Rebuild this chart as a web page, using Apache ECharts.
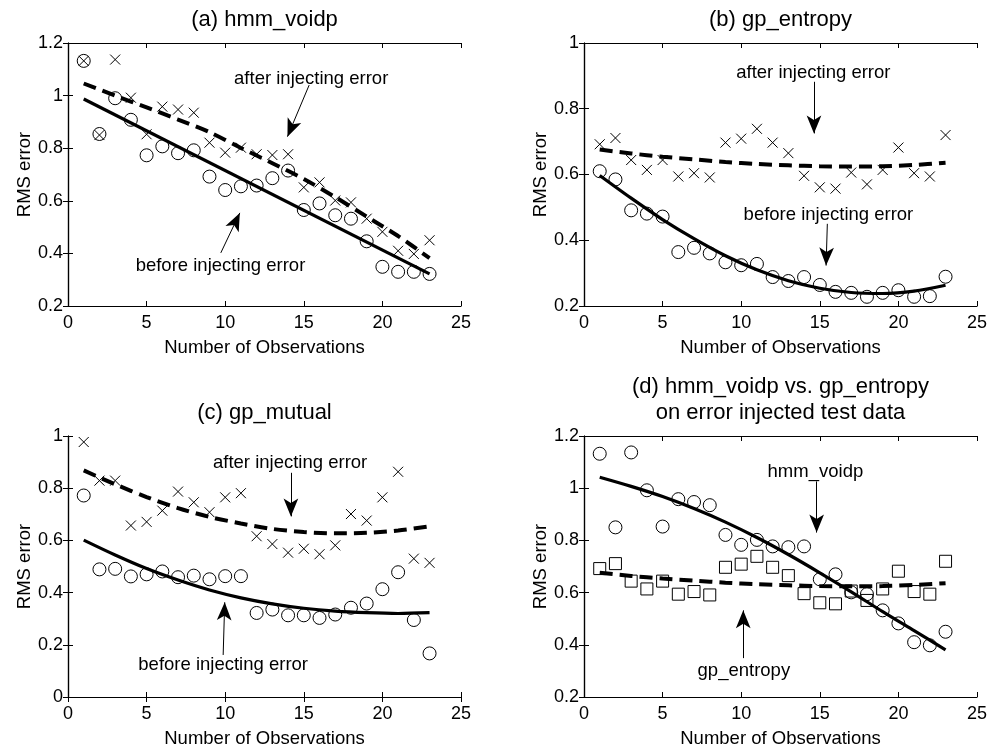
<!DOCTYPE html>
<html>
<head>
<meta charset="utf-8">
<script src="https://cdn.jsdelivr.net/npm/echarts@6/dist/echarts.min.js"></script>
<style>html,body{margin:0;padding:0;background:#fff}#c{width:990px;height:749px}</style>
</head>
<body>
<div id="c"></div>
<script>
// ---------- data ----------
const obsX = [1,2,3,4,5,6,7,8,9,10,11,12,13,14,15,16,17,18,19,20,21,22,23];
const fitX = [1,3,5,7,9,11,13,15,17,19,21,23];
const lineEndsX = [1,23];

const xTicks = [0,5,10,15,20,25];

// (a) hmm_voidp
const aBefore = [1.132,0.854,0.990,0.908,0.773,0.807,0.781,0.792,0.692,0.641,0.655,0.658,0.686,0.715,0.565,0.590,0.545,0.532,0.446,0.349,0.330,0.330,0.322];
const aAfter  = [1.132,0.850,1.137,0.992,0.853,0.958,0.947,0.935,0.821,0.783,0.802,0.777,0.774,0.777,0.651,0.670,0.601,0.594,0.532,0.482,0.410,0.398,0.450];
const aFitBefore = [0.987,0.322];
const aFitAfter  = [1.046,1.000,0.955,0.909,0.861,0.801,0.743,0.683,0.614,0.540,0.466,0.382];

// (b) gp_entropy
const bBefore = [0.610,0.585,0.491,0.481,0.472,0.364,0.377,0.360,0.333,0.324,0.328,0.288,0.276,0.288,0.264,0.243,0.240,0.228,0.240,0.248,0.228,0.230,0.289];
const bAfter  = [0.692,0.711,0.644,0.614,0.644,0.594,0.604,0.591,0.697,0.709,0.739,0.697,0.665,0.596,0.561,0.557,0.606,0.570,0.614,0.682,0.604,0.594,0.720];
const bFitBefore = [0.597,0.528,0.463,0.405,0.353,0.310,0.277,0.254,0.241,0.238,0.245,0.263];
const bFitAfter  = [0.676,0.664,0.654,0.646,0.638,0.632,0.628,0.625,0.624,0.625,0.629,0.636];

// (c) gp_mutual
const cBefore = [0.772,0.489,0.491,0.462,0.470,0.481,0.459,0.465,0.451,0.463,0.463,0.322,0.335,0.313,0.313,0.303,0.316,0.342,0.358,0.413,0.478,0.295,0.167];
const cAfter  = [0.977,0.829,0.829,0.657,0.671,0.714,0.787,0.746,0.708,0.765,0.781,0.616,0.586,0.553,0.568,0.547,0.581,0.701,0.676,0.765,0.863,0.530,0.514];
const cFitBefore = [0.601,0.544,0.492,0.448,0.410,0.380,0.357,0.340,0.329,0.323,0.320,0.323];
const cFitAfter  = [0.868,0.815,0.766,0.724,0.690,0.665,0.644,0.632,0.627,0.629,0.638,0.654];

// (d) hmm_voidp vs gp_entropy (error injected) : reuses aAfter / bAfter
const dFitHmm = [1.042,1.007,0.968,0.922,0.870,0.811,0.746,0.676,0.603,0.527,0.454,0.381];
const dFitGp  = bFitAfter;

const titles = ['(a) hmm_voidp','(b) gp_entropy','(c) gp_mutual','(d) hmm_voidp vs. gp_entropy\non error injected test data'];
const xName = 'Number of Observations';
const yName = 'RMS error';

// annotations: [text, textX, textY, arrowFromX, arrowFromY, arrowToX, arrowToY]
const annA = [['after injecting error',15.47,1.065,15.34,1.040,13.96,0.844],
              ['before injecting error',9.70,0.354,9.72,0.402,10.93,0.554]];
const annB = [['after injecting error',14.59,0.909,14.63,0.882,14.63,0.725],
              ['before injecting error',15.55,0.478,15.48,0.450,15.40,0.323]];
const annC = [['after injecting error',14.13,0.897,14.18,0.859,14.18,0.692],
              ['before injecting error',9.87,0.123,9.87,0.161,9.97,0.363]];
const annD = [['hmm_voidp',14.72,1.063,14.80,1.026,14.80,0.830],
              ['gp_entropy',10.17,0.299,10.13,0.349,10.13,0.532]];

// ---------- layout ----------
const FONT = '"Liberation Sans", Arial, Helvetica, sans-serif';
const grids = [
  {left:68, top:43, width:393, height:263},
  {left:584, top:43, width:393, height:263},
  {left:68, top:436, width:393, height:264},
  {left:584, top:436, width:393, height:264}
];
const yRanges = [[0.2,1.2],[0.2,1.0],[0,1.0],[0.2,1.2]];

const xAxes = [], yAxes = [];
grids.forEach((g,i) => {
  const line = {show:true, lineStyle:{color:'#000', width:1.2}};
  const tick = {show:true, inside:true, length:5, lineStyle:{color:'#000', width:1}};
  xAxes.push({type:'value', gridIndex:i, position:'bottom', min:xTicks[0], max:xTicks[xTicks.length-1], interval:5,
    axisLine:line, axisTick:tick, splitLine:{show:false},
    axisLabel:{color:'#000', fontSize:18, fontFamily:FONT, margin:8},
    name:xName, nameLocation:'middle', nameGap:32,
    nameTextStyle:{color:'#000', fontSize:18.5, fontFamily:FONT}});
  xAxes.push({type:'value', gridIndex:i, position:'top', min:xTicks[0], max:xTicks[xTicks.length-1], interval:5,
    axisLine:line, axisTick:tick, splitLine:{show:false}, axisLabel:{show:false}});
  yAxes.push({type:'value', gridIndex:i, position:'left', min:yRanges[i][0], max:yRanges[i][1], interval:0.2,
    axisLine:line, axisTick:tick, splitLine:{show:false},
    axisLabel:{color:'#000', fontSize:18, fontFamily:FONT, margin:5},
    name:yName, nameLocation:'middle', nameGap:34, nameRotate:90,
    nameTextStyle:{color:'#000', fontSize:18.5, fontFamily:FONT}});
  yAxes.push({type:'value', gridIndex:i, position:'right', min:yRanges[i][0], max:yRanges[i][1], interval:0.2,
    axisLine:line, axisTick:tick, splitLine:{show:false}, axisLabel:{show:false}});
});

const CROSS = 'path://M0,0L10,10M10,0L0,10';
function pts(xs, ys){ return xs.map((x,k)=>[x, ys[k]]); }
function marker(i, ys, symbol, size){
  return {type:'scatter', xAxisIndex:2*i, yAxisIndex:2*i, data:pts(obsX,ys), symbol:symbol, symbolSize:size,
    itemStyle:{color:'rgba(0,0,0,0)', borderColor:'#000', borderWidth:1, opacity:1}, z:3, silent:true};
}
function fit(i, xs, ys, dashed){
  return {type:'line', xAxisIndex:2*i, yAxisIndex:2*i, data:pts(xs,ys), showSymbol:false, symbol:'none',
    smooth: xs.length>2 ? 0.3 : false, silent:true,
    lineStyle:{color:'#000', width: dashed?4:3.2, type: dashed?[13,7]:'solid', cap:'butt', opacity:1}, z:4};
}
function annot(i, list){
  return {type:'scatter', xAxisIndex:2*i, yAxisIndex:2*i, symbolSize:1, silent:true,
    itemStyle:{color:'rgba(0,0,0,0)', opacity:1},
    data:list.map(a=>({name:a[0], value:[a[1],a[2]]})),
    label:{show:true, position:'inside', formatter:p=>p.name, color:'#000', fontSize:18.5, fontFamily:FONT,
      textBorderWidth:0, opacity:1},
    markLine:{silent:true, animation:false, symbol:['none','arrow'], symbolSize:[11,18],
      label:{show:false}, lineStyle:{color:'#000', width:1, type:'solid', opacity:1},
      data:list.map(a=>[{coord:[a[3],a[4]]},{coord:[a[5],a[6]]}])},
    z:5};
}

const series = [
  marker(0,aBefore,'circle',13), marker(0,aAfter,CROSS,10), fit(0,lineEndsX,aFitBefore,false), fit(0,fitX,aFitAfter,true), annot(0,annA),
  marker(1,bBefore,'circle',13), marker(1,bAfter,CROSS,10), fit(1,fitX,bFitBefore,false), fit(1,fitX,bFitAfter,true), annot(1,annB),
  marker(2,cBefore,'circle',13), marker(2,cAfter,CROSS,10), fit(2,fitX,cFitBefore,false), fit(2,fitX,cFitAfter,true), annot(2,annC),
  marker(3,aAfter,'circle',13), marker(3,bAfter,'rect',12), fit(3,fitX,dFitHmm,false), fit(3,fitX,dFitGp,true), annot(3,annD)
];

const titleCenters = [[264.5,20],[780.5,20],[264.5,413],[780.5,400]];
const graphic = titles.map((t,i)=>({type:'text', x:titleCenters[i][0], y:titleCenters[i][1],
  style:{text:t, fill:'#000', font:'22px '+FONT, textAlign:'center', textVerticalAlign:'middle', lineHeight:26}}));

const chart = echarts.init(document.getElementById('c'), null, {renderer:'canvas'});
chart.setOption({
  animation:false,
  backgroundColor:'#fff',
  grid:grids,
  xAxis:xAxes,
  yAxis:yAxes,
  series:series,
  graphic:graphic
});
</script>
</body>
</html>
